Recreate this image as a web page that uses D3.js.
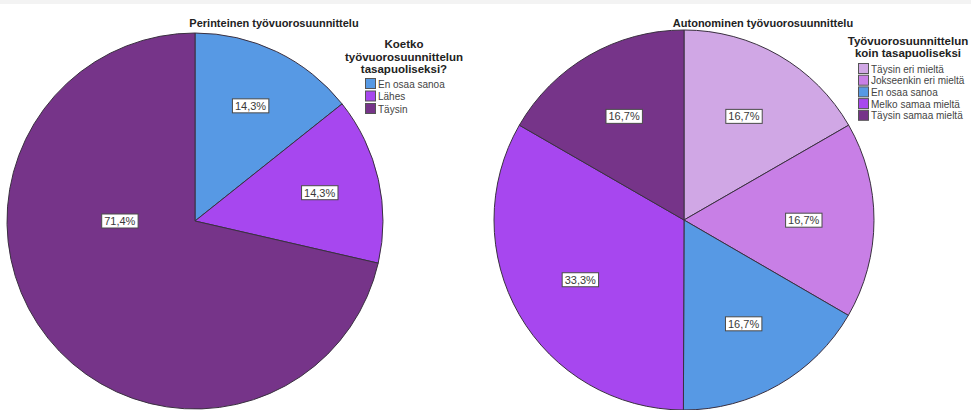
<!DOCTYPE html>
<html>
<head>
<meta charset="utf-8">
<script src="https://cdn.jsdelivr.net/npm/d3@7"></script>
<style>
  html, body { margin: 0; padding: 0; background: #ffffff; }
  svg { display: block; font-family: "Liberation Sans", Arial, sans-serif; }
</style>
</head>
<body>
<svg id="chart" width="971" height="410"></svg>
<script>
// ---- Data ----
const leftTitle = "Perinteinen työvuorosuunnittelu";
const leftLegendTitle = ["Koetko", "työvuorosuunnittelun", "tasapuoliseksi?"];
const leftCategories = ["En osaa sanoa", "Lähes", "Täysin"];
const leftValues = [14.3, 14.3, 71.4];
const leftLabels = ["14,3%", "14,3%", "71,4%"];
const leftColors = ["#5799e4", "#a747ef", "#763489"];

const rightTitle = "Autonominen työvuorosuunnittelu";
const rightLegendTitle = ["Työvuorosuunnittelun", "koin tasapuoliseksi"];
const rightCategories = ["Täysin eri mieltä", "Jokseenkin eri mieltä", "En osaa sanoa", "Melko samaa mieltä", "Täysin samaa mieltä"];
const rightValues = [16.7, 16.7, 16.7, 33.3, 16.7];
const rightLabels = ["16,7%", "16,7%", "16,7%", "33,3%", "16,7%"];
const rightColors = ["#d0a7e5", "#c87fe6", "#5799e4", "#a747ef", "#763489"];

// ---- Layout ----
const svg = d3.select("#chart");
svg.append("rect").attr("x", 0).attr("y", 0).attr("width", 971).attr("height", 4).attr("fill", "#f3f3f3");

function drawPie(cfg) {
  const g = svg.append("g").attr("transform", `translate(${cfg.cx},${cfg.cy})`);
  const pie = d3.pie().sort(null).value(d => d.v);
  const arcs = pie(cfg.values.map((v, i) => ({ v, i })));
  const arc = d3.arc().innerRadius(0).outerRadius(cfg.r);

  g.selectAll("path.slice").data(arcs).enter().append("path")
    .attr("class", "slice")
    .attr("d", arc)
    .attr("fill", d => cfg.colors[d.data.i])
    .attr("stroke", "#3a3040")
    .attr("stroke-width", 1)
    .attr("stroke-linejoin", "round");

  // labels
  arcs.forEach(d => {
    let a = (d.startAngle + d.endAngle) / 2;
    let rr = cfg.r * cfg.labelFrac;
    if (d.endAngle - d.startAngle > Math.PI) { // large slice: label placed toward the open side
      a = 1.5 * Math.PI;
      rr = cfg.r * 0.4;
    }
    const x = Math.sin(a) * rr, y = -Math.cos(a) * rr;
    const lg = g.append("g").attr("transform", `translate(${x},${y})`);
    const t = lg.append("text")
      .attr("text-anchor", "middle").attr("dy", "0.35em")
      .attr("font-size", 11).attr("fill", "#3a3a3a")
      .text(cfg.labels[d.data.i]);
    const bb = t.node().getBBox();
    lg.insert("rect", "text")
      .attr("x", bb.x - 2.5).attr("y", -7)
      .attr("width", bb.width + 5).attr("height", 14)
      .attr("fill", "#ffffff").attr("stroke", "#4a4a4a").attr("stroke-width", 1);
  });

  // title
  svg.append("text")
    .attr("x", cfg.titleX).attr("y", 27)
    .attr("text-anchor", "middle")
    .attr("font-size", 11).attr("font-weight", "bold").attr("fill", "#222")
    .text(cfg.title);

  // legend
  const lgd = svg.append("g");
  cfg.legendTitle.forEach((line, i) => {
    lgd.append("text")
      .attr("x", cfg.legendTitleX).attr("y", cfg.legendTitleY + i * cfg.legendTitleStep)
      .attr("text-anchor", "middle")
      .attr("font-size", 11.5).attr("font-weight", "bold").attr("fill", "#222")
      .text(line);
  });
  cfg.categories.forEach((c, i) => {
    const y = cfg.legendY + i * cfg.legendStep;
    lgd.append("rect")
      .attr("x", cfg.legendX + 0.5).attr("y", y - 5.5)
      .attr("width", 10).attr("height", 10)
      .attr("fill", cfg.colors[i]).attr("stroke", "#555").attr("stroke-width", 1);
    lgd.append("text")
      .attr("x", cfg.legendX + 13).attr("y", y).attr("dy", "0.35em")
      .attr("font-size", 10).attr("fill", "#444")
      .text(c);
  });
}

drawPie({
  cx: 195, cy: 221, r: 188, labelFrac: 0.68,
  values: leftValues, labels: leftLabels, colors: leftColors, categories: leftCategories,
  title: leftTitle, titleX: 274,
  legendTitle: leftLegendTitle, legendTitleX: 404, legendTitleY: 48, legendTitleStep: 12.5,
  legendX: 365, legendY: 84, legendStep: 12.5
});

drawPie({
  cx: 684, cy: 220, r: 190, labelFrac: 0.63,
  values: rightValues, labels: rightLabels, colors: rightColors, categories: rightCategories,
  title: rightTitle, titleX: 763,
  legendTitle: rightLegendTitle, legendTitleX: 908, legendTitleY: 45, legendTitleStep: 12,
  legendX: 858, legendY: 69, legendStep: 11.7
});
</script>
</body>
</html>
